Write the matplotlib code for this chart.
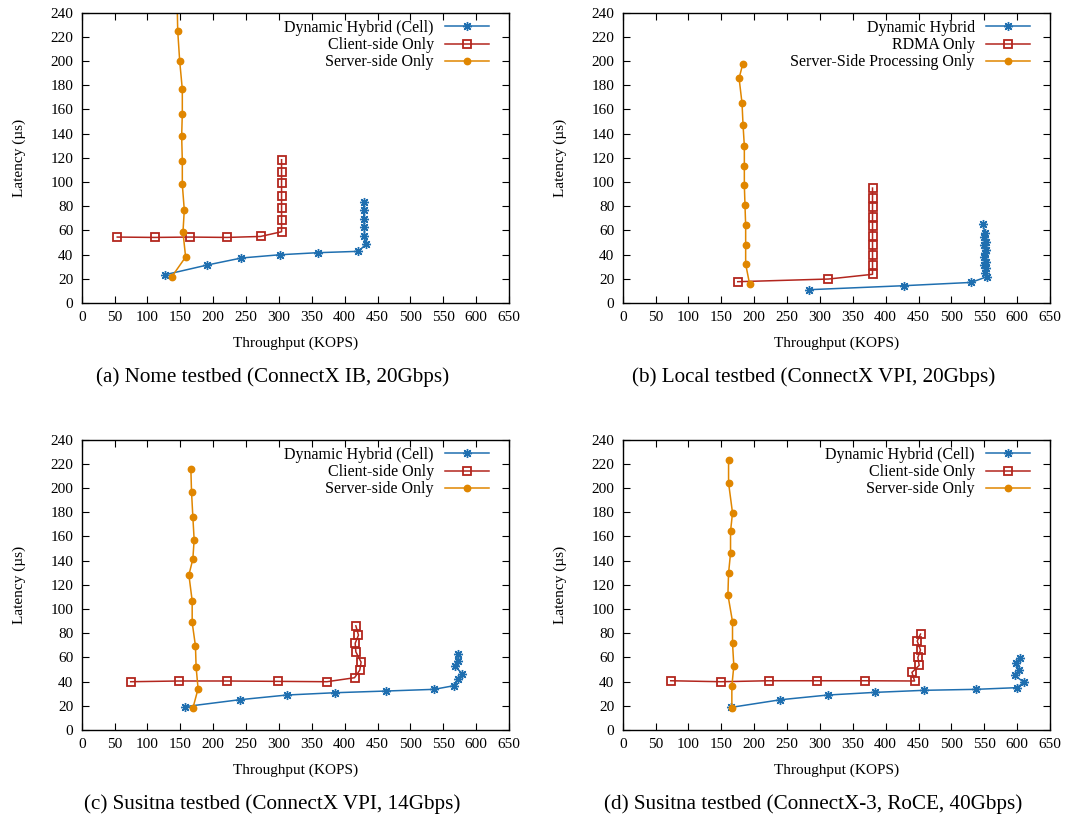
import matplotlib
matplotlib.use("Agg")
import matplotlib.pyplot as plt

plt.rcParams["font.family"] = ["Liberation Serif", "DejaVu Serif"]

# (a) Nome testbed
a_hybrid_x = [127, 191, 243, 302, 360, 421, 432, 430, 430, 429, 429, 429]
a_hybrid_y = [23.4, 31.4, 37.2, 39.9, 41.6, 42.7, 48.4, 55.6, 62.5, 69.6, 76.8, 83.7]
a_client_x = [54, 111, 165, 221, 272, 304, 304, 304, 304, 304, 304, 304]
a_client_y = [54.5, 54.2, 54.5, 54.2, 55.0, 58.9, 68.8, 78.7, 88.6, 98.8, 108.7, 118.4]
a_server_x = [137, 158, 154, 156, 153, 153, 152, 153, 153, 149, 146, 145]
a_server_y = [21.7, 38.0, 58.6, 76.8, 98.0, 117.5, 138.0, 156.6, 176.7, 200.0, 225.0, 252.0]

# (b) Local testbed
b_hybrid_x = [284, 428, 530, 554, 551, 553, 550, 552, 549, 551, 553, 550, 552, 549, 551, 548]
b_hybrid_y = [11.0, 14.3, 17.0, 21.7, 25.1, 28.7, 31.4, 34.1, 37.8, 41.0, 43.8, 47.9,
              50.6, 54.3, 57.6, 65.3]
b_rdma_x = [175, 313, 380, 380, 380, 380, 380, 380, 380, 380, 380, 380]
b_rdma_y = [17.6, 19.8, 23.7, 31.7, 39.6, 47.6, 55.6, 63.3, 71.3, 79.3, 87.0, 95.0]
b_server_x = [193, 187, 187, 187, 186, 185, 185, 185, 183, 181.5, 177, 182.5]
b_server_y = [15.7, 32.2, 48.2, 64.1, 80.6, 97.2, 113.4, 129.8, 147.3, 165.0, 185.8, 197.4]

# (c) Susitna testbed, ConnectX VPI
c_hybrid_x = [157, 240, 312, 385, 463, 536, 566, 572, 579, 568, 572, 573]
c_hybrid_y = [19.3, 25.0, 28.9, 30.8, 32.2, 33.6, 36.6, 41.8, 46.5, 52.5, 57.2, 62.7]
c_client_x = [74.5, 148, 221, 298, 373, 415, 423, 425, 417, 416, 421, 417]
c_client_y = [39.9, 40.5, 40.5, 40.2, 39.9, 43.2, 49.5, 56.1, 64.6, 71.7, 78.4, 86.1]
c_server_x = [169, 177, 174, 173, 168, 168, 163, 169, 171, 169, 167, 166]
c_server_y = [17.9, 34.1, 51.8, 69.4, 88.9, 106.8, 128.2, 141.2, 157.2, 176.4, 197.1, 215.8]

# (d) Susitna testbed, ConnectX-3 RoCE
d_hybrid_x = [165, 240, 312, 384, 459, 537, 600, 610, 597, 603, 598, 604]
d_hybrid_y = [18.7, 25.0, 28.9, 31.1, 32.8, 33.6, 35.0, 39.4, 45.1, 49.5, 55.0, 59.5]
d_client_x = [73, 149, 222, 295, 368, 444, 440, 451, 449, 453, 448, 453]
d_client_y = [40.7, 39.9, 40.7, 40.7, 40.7, 40.5, 47.6, 53.4, 60.0, 66.1, 73.5, 79.3]
d_server_x = [166, 166, 169, 167, 167, 160, 161, 164, 164, 167, 161, 161]
d_server_y = [18.2, 36.1, 53.1, 71.8, 89.5, 111.8, 129.7, 146.2, 164.2, 179.5, 204.3, 223.5]

x_ticks = list(range(0, 651, 50))
y_ticks = list(range(0, 241, 20))

BLUE = "#1f6fb0"
RED = "#b3261e"
ORANGE = "#e08600"


def draw_panel(ax, hx, hy, cx, cy, sx, sy, labels, caption):
    ax.plot(hx, hy, color=BLUE, lw=1.1, marker=(8, 2, 0), ms=6.5, mew=1.0, label=labels[0])
    ax.plot(cx, cy, color=RED, lw=1.1, marker="s", ms=5.3, mfc="none", mew=1.3, label=labels[1])
    ax.plot(sx, sy, color=ORANGE, lw=1.1, marker="o", ms=4.6, label=labels[2])
    ax.set_xlim(0, 650)
    ax.set_ylim(0, 240)
    ax.set_xticks(x_ticks)
    ax.set_yticks(y_ticks)
    ax.tick_params(direction="in", top=True, right=True, length=5, width=0.8,
                   labelsize=11, pad=6)
    for s in ax.spines.values():
        s.set_linewidth(1.0)
    ax.set_xlabel("Throughput (KOPS)", fontsize=11, labelpad=9)
    ax.set_ylabel("Latency (µs)", fontsize=11, labelpad=18)
    ax.legend(loc="upper right", bbox_to_anchor=(0.953, 0.975), frameon=False,
              markerfirst=False, fontsize=11.5, handlelength=2.75, handletextpad=0.7,
              labelspacing=0.08, borderaxespad=0.0, borderpad=0.0)
    # caption is centred on the whole sub-figure, a bit left of the axes centre
    ax.text(0.5 - 23 / 427.3, -0.255, caption, transform=ax.transAxes, ha="center",
            va="center", fontsize=15.2)


fig = plt.figure(figsize=(10.7, 8.18), dpi=100)
w, h = 0.3993, 0.3549
ax_a = fig.add_axes([0.0764, 0.6296, w, h])
ax_b = fig.add_axes([0.582, 0.6296, w, h])
ax_c = fig.add_axes([0.0764, 0.1076, w, h])
ax_d = fig.add_axes([0.582, 0.1076, w, h])

cell_labels = ["Dynamic Hybrid (Cell)", "Client-side Only", "Server-side Only"]
draw_panel(ax_a, a_hybrid_x, a_hybrid_y, a_client_x, a_client_y, a_server_x, a_server_y,
           cell_labels, "(a) Nome testbed (ConnectX IB, 20Gbps)")
draw_panel(ax_b, b_hybrid_x, b_hybrid_y, b_rdma_x, b_rdma_y, b_server_x, b_server_y,
           ["Dynamic Hybrid", "RDMA Only", "Server-Side Processing Only"],
           "(b) Local testbed (ConnectX VPI, 20Gbps)")
draw_panel(ax_c, c_hybrid_x, c_hybrid_y, c_client_x, c_client_y, c_server_x, c_server_y,
           cell_labels, "(c) Susitna testbed (ConnectX VPI, 14Gbps)")
draw_panel(ax_d, d_hybrid_x, d_hybrid_y, d_client_x, d_client_y, d_server_x, d_server_y,
           cell_labels, "(d) Susitna testbed (ConnectX-3, RoCE, 40Gbps)")

fig.savefig("out.png", dpi=100)
